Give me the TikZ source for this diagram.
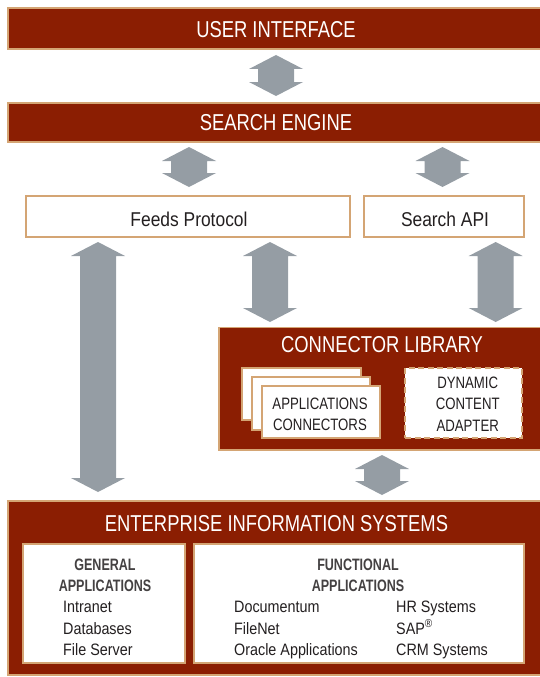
\documentclass[tikz,border=0pt]{standalone}
\usepackage{fontspec}
\setmainfont{Liberation Sans}
\newfontfamily\capsfont{Liberation Sans}[FakeStretch=0.8]
\newfontfamily\mixfont{Liberation Sans}[FakeStretch=0.87]
\newfontfamily\headfont{Liberation Sans Bold}[FakeStretch=0.76]
\usetikzlibrary{calc}
\definecolor{brick}{HTML}{8B1E02}
\definecolor{trim}{HTML}{D4A574}
\definecolor{arrowgray}{HTML}{959DA4}
\definecolor{ink}{HTML}{231F20}

\tikzset{
  % dark band / panel with tan edge
  bar/.style={fill=brick, draw=trim, line width=1.3pt, inner sep=0pt, outer sep=0pt},
  % white box with tan edge
  wbox/.style={fill=white, draw=trim, line width=1.4pt, inner sep=0pt, outer sep=0pt},
  bigcaps/.style={text=white, inner sep=0pt, font=\capsfont\fontsize{23}{26}\selectfont},
  midtext/.style={text=ink, inner sep=0pt, font=\mixfont\fontsize{20}{24}\selectfont},
  smallcaps/.style={text=ink, inner sep=0pt, align=center, font=\capsfont\fontsize{16.5}{21.5}\selectfont},
  head/.style={text=ink!85!white, inner sep=0pt, anchor=base, font=\headfont\fontsize{16.5}{20}\selectfont},
  item/.style={text=ink, inner sep=0pt, anchor=base west, font=\mixfont\fontsize{16.5}{20}\selectfont},
  % two-headed block arrow between two points; #1/#2 = gaps at the ends
  dbl/.style 2 args={fill=arrowgray, draw=none, to path={
    let \p1=(\tikztostart), \p2=(\tikztotarget) in
    (\x1,\y1-#1) -- (\x1+27pt,\y1-#1-14pt) -- (\x1+18pt,\y1-#1-14pt)
    -- (\x2+18pt,\y2+#2+14pt) -- (\x2+27pt,\y2+#2+14pt) -- (\x2,\y2+#2)
    -- (\x2-27pt,\y2+#2+14pt) -- (\x2-18pt,\y2+#2+14pt)
    -- (\x1-18pt,\y1-#1-14pt) -- (\x1-27pt,\y1-#1-14pt) -- cycle}}
}

\begin{document}
\begin{tikzpicture}[x=1pt,y=-1pt]
\useasboundingbox (0,0) rectangle (540,677);

% top bands
\node[bar, minimum width=534pt, minimum height=41pt] (ui) at (275,28.5) {};
\node[bigcaps, anchor=base] (uitext) at (276,37.3) {USER INTERFACE};
\node[bar, minimum width=534pt, minimum height=39pt] (se) at (275,122.5) {};
\node[bigcaps, anchor=base] (setext) at (276,130) {SEARCH ENGINE};

% protocol boxes
\node[wbox, minimum width=324pt, minimum height=41pt] (feeds) at (188,216.5) {};
\node[midtext, anchor=base] (feedstext) at (189,226) {Feeds Protocol};
\node[wbox, minimum width=160pt, minimum height=41pt] (sapi) at (444,216.5) {};
\node[midtext, anchor=base] (sapitext) at (445,226) {Search API};

% connector library
\node[bar, minimum width=323pt, minimum height=122.5pt] (lib) at (380.5,388.75) {};
\node[bigcaps, anchor=base] (libtext) at (382,352.3) {CONNECTOR LIBRARY};
\node[wbox, minimum width=119pt, minimum height=52pt] (appA) at (301.5,394) {};
\node[wbox, minimum width=118pt, minimum height=53pt] (appB) at (311,403.5) {};
\node[wbox, minimum width=118pt, minimum height=52pt] (appC) at (321,412) {};
\node[smallcaps] (apptext) at (320,414.1) {APPLICATIONS\\CONNECTORS};
\node[fill=white, draw=trim, line width=1.8pt, dash pattern=on 6pt off 3.5pt,
      inner sep=0pt, minimum width=117pt, minimum height=70pt] (dca) at (463.5,403) {};
\node[smallcaps] (dcatext) at (467.7,404.1) {DYNAMIC\\CONTENT\\ADAPTER};

% enterprise information systems
\node[bar, minimum width=534pt, minimum height=174pt] (eis) at (275,588) {};
\node[bigcaps, anchor=base] (eistext) at (276.5,531.7) {ENTERPRISE INFORMATION SYSTEMS};
\node[wbox, minimum width=162pt, minimum height=119pt] (gen) at (104,603.5) {};
\node[wbox, minimum width=330pt, minimum height=119pt] (fun) at (359,603.5) {};

\node[head] (genA) at (105,570) {GENERAL};
\node[head] (genB) at (105,591) {APPLICATIONS};
\node[item] (intranet) at (63,612.7) {Intranet};
\node[item] (databases) at (63,634) {Databases};
\node[item] (fileserver) at (63,655.7) {File Server};

\node[head] (funA) at (358,570) {FUNCTIONAL};
\node[head] (funB) at (358,591) {APPLICATIONS};
\node[item] (documentum) at (234,612.7) {Documentum};
\node[item] (filenet) at (234,634) {FileNet};
\node[item] (oracle) at (234,655.7) {Oracle Applications};
\node[item] (hr) at (396,612.7) {HR Systems};
\node[item] (sap) at (396,634) {SAP\textsuperscript{®}};
\node[item] (crm) at (396,655.7) {CRM Systems};

% arrow columns
\coordinate (c1) at (276,0);
\coordinate (c2) at (189,0);
\coordinate (c3) at (442.5,0);
\coordinate (c4) at (98,0);
\coordinate (c5) at (270,0);
\coordinate (c6) at (495.7,0);
\coordinate (c7) at (382,0);

\path[dbl={6pt}{7pt}] (ui.south -| c1) to (se.north -| c1);
\path[dbl={5pt}{9pt}] (se.south -| c2) to (feeds.north -| c2);
\path[dbl={5pt}{9pt}] (se.south -| c3) to (sapi.north -| c3);
\path[dbl={5pt}{9pt}] (feeds.south -| c4) to (eis.north -| c4);
\path[dbl={5pt}{5.5pt}] (feeds.south -| c5) to (lib.north -| c5);
\path[dbl={5pt}{5.5pt}] (sapi.south -| c6) to (lib.north -| c6);
\path[dbl={5pt}{6pt}] (lib.south -| c7) to (eis.north -| c7);
\end{tikzpicture}
\end{document}
